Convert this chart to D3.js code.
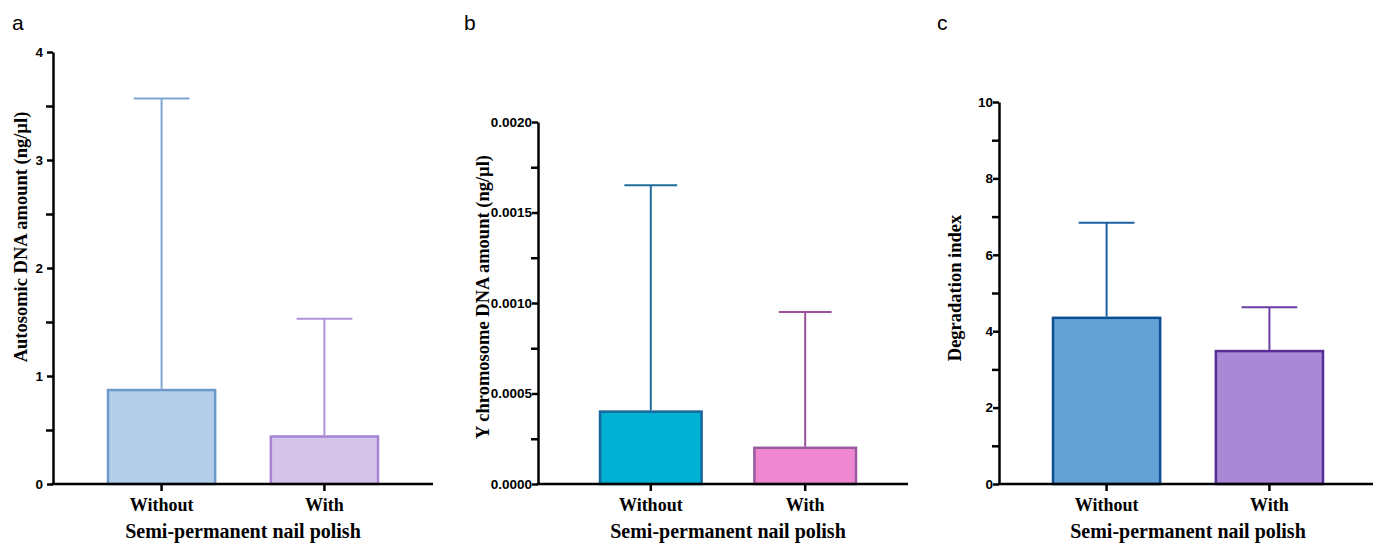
<!DOCTYPE html>
<html>
<head>
<meta charset="utf-8">
<script src="https://cdn.jsdelivr.net/npm/d3@7"></script>
<style>
  body { margin: 0; background: #fff; }
  svg { display: block; }
  .tick text { font-family: "Liberation Sans", Arial, sans-serif; font-weight: bold; font-size: 13.5px; fill: #000; }
  .lbl { font-family: "Liberation Serif", "Times New Roman", serif; font-weight: bold; fill: #000; }
  .panel-letter { font-family: "Liberation Sans", Arial, sans-serif; font-size: 21px; fill: #000; }
</style>
</head>
<body>
<svg id="chart" width="1373" height="544"></svg>
<script>
var groups = ["Without", "With"];

// panel a
var autoMean = [0.87, 0.44];
var autoSD = [2.70, 1.09];
var autoTicks = [0, 1, 2, 3, 4];
var autoMinor = [0.5, 1.5, 2.5, 3.5];

// panel b
var yMean = [0.0004, 0.0002];
var ySD = [0.00125, 0.00075];
var yTicks = [0, 0.0005, 0.0010, 0.0015, 0.0020];
var yMinor = [0.00025, 0.00075, 0.00125, 0.00175];

// panel c
var degMean = [4.35, 3.48];
var degSD = [2.49, 1.15];
var degTicks = [0, 2, 4, 6, 8, 10];
var degMinor = [1, 3, 5, 7, 9];

var xTitle = "Semi-permanent nail polish";

var panels = [
  { letter: "a", lx: 12, mean: autoMean, sd: autoSD, ticks: autoTicks, minor: autoMinor,
    fmt: d3.format("d"), max: 4, axisX: 53, top: 52, xEnd: 433, band: [108, 378], pad: 4,
    ylab: "Autosomic DNA amount (ng/\u00b5l)", ylabX: 21, ylabY: 237,
    fill: ["#b3cfe9", "#d4c4e9"], stroke: ["#6d99c9", "#a584d2"], err: ["#7fa5d3", "#b192db"] },
  { letter: "b", lx: 464, mean: yMean, sd: ySD, ticks: yTicks, minor: yMinor,
    fmt: d3.format(".4f"), max: 0.002, axisX: 538, top: 122, xEnd: 908, band: [600, 856], pad: 0,
    ylab: "Y chromosome DNA amount (ng/\u00b5l)", ylabX: 483, ylabY: 297,
    fill: ["#00b1d4", "#ef88d0"], stroke: ["#17679a", "#985aa0"], err: ["#1f6e99", "#9b4f9c"] },
  { letter: "c", lx: 937, mean: degMean, sd: degSD, ticks: degTicks, minor: degMinor,
    fmt: d3.format("d"), max: 10, axisX: 999, top: 102, xEnd: 1373, band: [1053, 1323], pad: 0,
    ylab: "Degradation index", ylabX: 955, ylabY: 288,
    fill: ["#63a2d5", "#a988d5"], stroke: ["#0e4f93", "#592c98"], err: ["#1b5fa0", "#6a3da5"] }
];

var svg = d3.select("#chart");
var bottom = 484;

panels.forEach(function(p) {
  var g = svg.append("g");

  var y = d3.scaleLinear().domain([0, p.max]).range([bottom, p.top]);
  var x = d3.scaleBand().domain(groups).range(p.band).paddingInner(0.342).paddingOuter(0);
  var bw = x.bandwidth();

  // bars
  g.selectAll("rect.bar").data(groups).enter()
    .append("rect")
    .attr("class", "bar")
    .attr("x", function(d) { return x(d); })
    .attr("y", function(d, i) { return y(p.mean[i]); })
    .attr("width", bw)
    .attr("height", function(d, i) { return bottom - y(p.mean[i]); })
    .attr("fill", function(d, i) { return p.fill[i]; })
    .attr("stroke", function(d, i) { return p.stroke[i]; })
    .attr("stroke-width", 2.5);

  // error bars (upper only)
  groups.forEach(function(d, i) {
    var cx = x(d) + bw / 2;
    var yt = y(p.mean[i] + p.sd[i]);
    g.append("line")
      .attr("x1", cx).attr("x2", cx)
      .attr("y1", y(p.mean[i]) - 1.2).attr("y2", yt)
      .attr("stroke", p.err[i]).attr("stroke-width", 2);
    g.append("line")
      .attr("x1", cx - bw * 0.26).attr("x2", cx + bw * 0.26)
      .attr("y1", yt).attr("y2", yt)
      .attr("stroke", p.err[i]).attr("stroke-width", 2);
  });

  // y axis: minor ticks then major ticks
  g.append("g")
    .attr("transform", "translate(" + p.axisX + ",0)")
    .call(d3.axisLeft(y).tickValues(p.minor).tickSize(7).tickFormat(""))
    .call(function(a) { a.select(".domain").remove(); })
    .selectAll("line").attr("stroke-width", 2.5);

  var ya = g.append("g")
    .attr("transform", "translate(" + p.axisX + ",0)")
    .call(d3.axisLeft(y).tickValues(p.ticks).tickSize(6).tickPadding(p.pad).tickFormat(p.fmt).tickSizeOuter(0));
  ya.select(".domain").attr("stroke-width", 2.5).attr("stroke", "#000");
  ya.selectAll(".tick line").attr("stroke-width", 2.5);

  // x axis
  var xa = g.append("g")
    .attr("transform", "translate(0," + bottom + ")")
    .call(d3.axisBottom(x).tickSize(7).tickFormat(""));
  xa.select(".domain").remove();
  xa.selectAll(".tick line").attr("stroke-width", 2.5);
  g.append("line")
    .attr("x1", p.axisX - 1.25).attr("x2", p.xEnd)
    .attr("y1", bottom).attr("y2", bottom)
    .attr("stroke", "#000").attr("stroke-width", 2.5);

  // category labels
  g.selectAll("text.cat").data(groups).enter()
    .append("text")
    .attr("class", "lbl cat")
    .attr("x", function(d) { return x(d) + bw / 2; })
    .attr("y", 511)
    .attr("text-anchor", "middle")
    .style("font-size", "18px")
    .text(function(d) { return d; });

  // x title
  g.append("text")
    .attr("class", "lbl")
    .attr("x", (p.band[0] + p.band[1]) / 2)
    .attr("y", 538)
    .attr("text-anchor", "middle")
    .style("font-size", "20px")
    .text(xTitle);

  // y title
  g.append("text")
    .attr("class", "lbl")
    .attr("transform", "translate(" + (p.ylabX + 6) + "," + p.ylabY + ") rotate(-90)")
    .attr("text-anchor", "middle")
    .style("font-size", "18.5px")
    .text(p.ylab);

  // panel letter
  g.append("text")
    .attr("class", "panel-letter")
    .attr("x", p.lx)
    .attr("y", 30)
    .text(p.letter);
});
</script>
</body>
</html>
